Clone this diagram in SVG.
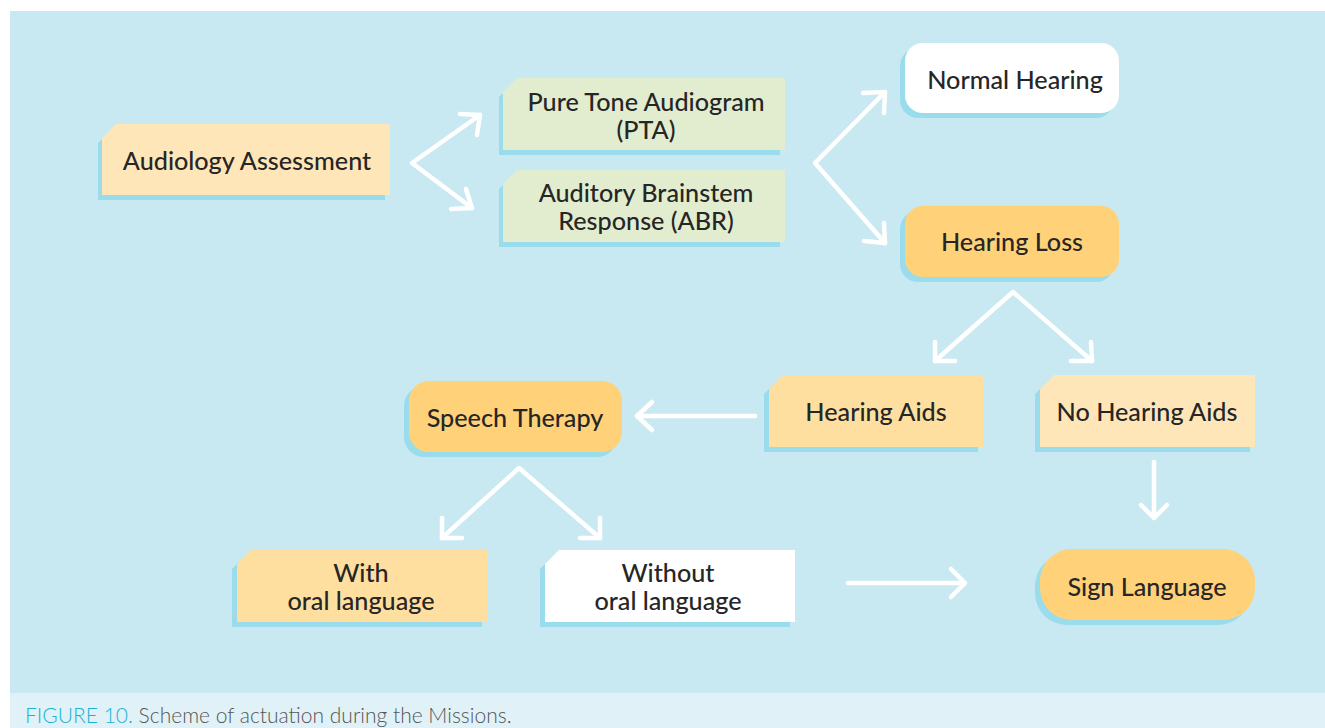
<svg xmlns="http://www.w3.org/2000/svg" width="1325" height="728" viewBox="0 0 1325 728">
<style>
.t{font-family:Lato,"Noto Sans",sans-serif;font-size:25.2px;font-weight:500;fill:#262626;text-anchor:middle}
.sh{fill:#9bdcec}
.cn{fill:none;stroke:#fff;stroke-width:4.5;stroke-linecap:round;stroke-linejoin:round}
.peach{fill:#ffe6b8}
.amber{fill:#ffdfa0}
.gold{fill:#ffd27a}
.green{fill:#e2edd0}
.white{fill:#fff}
</style>
<rect x="0" y="0" width="1325" height="728" fill="#fff"/>
<rect x="10" y="11" width="1315" height="682" fill="#c9e9f2"/>
<rect x="10" y="693" width="1315" height="35" fill="#e0f2f8"/>
<text x="25" y="723" font-family="Lato,'Noto Sans',sans-serif" font-size="21" font-weight="300" fill="#555"><tspan fill="#1ab2d2">FIGURE 10.</tspan> Scheme of actuation during the Missions.</text>

<g id="connectors">
  <path class="cn" d="M480,115 L412,163 L472,208"/>
  <path class="cn" d="M460,114 L480,115 L477,135"/>
  <path class="cn" d="M451,209 L472,208 L466,189"/>
  <path class="cn" d="M885,92 L815,163 L885,243"/>
  <path class="cn" d="M863,93 L885,92 L884,113"/>
  <path class="cn" d="M864,241 L885,243 L884,223"/>
  <path class="cn" d="M935,361 L1013,292 L1092,361"/>
  <path class="cn" d="M935,342 L935,361 L955,361"/>
  <path class="cn" d="M1091,342 L1092,361 L1071,361"/>
  <path class="cn" d="M755,416 L637,416"/>
  <path class="cn" d="M652,402 L637,416 L652,430"/>
  <path class="cn" d="M1154,462 L1154,518"/>
  <path class="cn" d="M1141,505 L1154,518 L1167,505"/>
  <path class="cn" d="M442,538 L519,468 L600,538"/>
  <path class="cn" d="M442,518 L442,538 L462,538"/>
  <path class="cn" d="M600,518 L600,538 L580,538"/>
  <path class="cn" d="M848,583 L965,583"/>
  <path class="cn" d="M951,569 L965,583 L951,597"/>
</g>

<g id="audiology">
  <path class="sh" d="M112,129 H385 V200 H98 V143 Z"/>
  <path class="peach" d="M116,124 H390 V195 H102 V138 Z"/>
  <text class="t" x="247" y="170">Audiology Assessment</text>
</g>
<g id="pta">
  <path class="sh" d="M513,83 H780 V155 H499 V97 Z"/>
  <path class="green" d="M517,78 H785 V150 H503 V92 Z"/>
  <text class="t" x="646" y="111">Pure Tone Audiogram</text>
  <text class="t" x="646" y="139">(PTA)</text>
</g>
<g id="abr">
  <path class="sh" d="M513,175 H780 V247 H499 V189 Z"/>
  <path class="green" d="M517,170 H785 V242 H503 V184 Z"/>
  <text class="t" x="646" y="202">Auditory Brainstem</text>
  <text class="t" x="646" y="230">Response (ABR)</text>
</g>
<g id="normal">
  <rect class="sh" x="900" y="48" width="214" height="70" rx="18"/>
  <rect class="white" x="905" y="43" width="214" height="70" rx="18"/>
  <text class="t" x="1015" y="89">Normal Hearing</text>
</g>
<g id="loss">
  <rect class="sh" x="900" y="211" width="214" height="71" rx="18"/>
  <rect class="gold" x="905" y="206" width="214" height="71" rx="18"/>
  <text class="t" x="1012" y="251">Hearing Loss</text>
</g>
<g id="speech">
  <rect class="sh" x="404" y="386" width="213" height="71" rx="20"/>
  <rect class="gold" x="409" y="381" width="213" height="71" rx="20"/>
  <text class="t" x="515" y="427">Speech Therapy</text>
</g>
<g id="aids">
  <path class="sh" d="M778,380 H978 V452 H764 V394 Z"/>
  <path class="amber" d="M783,375 H983 V447 H769 V389 Z"/>
  <text class="t" x="876" y="421">Hearing Aids</text>
</g>
<g id="noaids">
  <path class="sh" d="M1049,380 H1250 V452 H1035 V394 Z"/>
  <path class="peach" d="M1054,375 H1255 V447 H1040 V389 Z"/>
  <text class="t" x="1147" y="421">No Hearing Aids</text>
</g>
<g id="with">
  <path class="sh" d="M246,555 H482 V627 H232 V569 Z"/>
  <path class="amber" d="M251,550 H487 V622 H237 V564 Z"/>
  <text class="t" x="361" y="582">With</text>
  <text class="t" x="361" y="610">oral language</text>
</g>
<g id="without">
  <path class="sh" d="M554,555 H790 V627 H540 V569 Z"/>
  <path class="white" d="M559,550 H795 V622 H545 V564 Z"/>
  <text class="t" x="668" y="582">Without</text>
  <text class="t" x="668" y="610">oral language</text>
</g>
<g id="sign">
  <rect class="sh" x="1035" y="554" width="215" height="71" rx="32"/>
  <rect class="gold" x="1040" y="549" width="215" height="71" rx="32"/>
  <text class="t" x="1147" y="596">Sign Language</text>
</g>
</svg>
